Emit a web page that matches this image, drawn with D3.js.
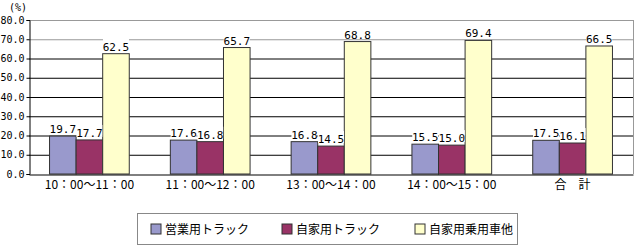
<!DOCTYPE html>
<html>
<head>
<meta charset="utf-8">
<script src="https://cdn.jsdelivr.net/npm/d3@7"></script>
<style>
  body { margin: 0; background: #fff; }
  text { font-family: "Noto Sans CJK JP", sans-serif; }
  .num { font-family: "DejaVu Sans Mono", monospace; }
</style>
</head>
<body>
<svg id="chart" width="636" height="246"></svg>
<script>
// data
let categories = ["10：00〜11：00", "11：00〜12：00", "13：00〜14：00", "14：00〜15：00", "合　計"];
let seriesNames = ["営業用トラック", "自家用トラック", "自家用乗用車他"];
let eigyo = [19.7, 17.6, 16.8, 15.5, 17.5];
let jikaTruck = [17.7, 16.8, 14.5, 15.0, 16.1];
let jikaCar = [62.5, 65.7, 68.8, 69.4, 66.5];
let yTicks = [0, 10, 20, 30, 40, 50, 60, 70, 80];

let colors = ["#9999cc", "#993366", "#ffffcc"];
let allSeries = [eigyo, jikaTruck, jikaCar];

let svg = d3.select("#chart");
let plotL = 29, plotR = 633, plotT = 20, plotB = 174;

let x = d3.scaleBand().domain(categories).range([plotL, plotR]).paddingInner(0.34).paddingOuter(0.17);
let xs = d3.scaleBand().domain(d3.range(seriesNames.length)).range([0, x.bandwidth()]);
let y = d3.scaleLinear().domain([0, 80]).range([plotB, plotT]);

// gridlines
svg.append("g").selectAll("line")
    .data(yTicks.filter(d => d > 0))
    .join("line")
    .attr("x1", plotL).attr("x2", plotR)
    .attr("y1", d => y(d) + 0.5).attr("y2", d => y(d) + 0.5)
    .attr("stroke", d => d >= 70 ? "#999" : "#000")
    .attr("stroke-width", 1);

// right border
svg.append("line")
    .attr("x1", plotR + 0.5).attr("x2", plotR + 0.5).attr("y1", plotT).attr("y2", plotB)
    .attr("stroke", "#999");

// bars
let groups = svg.append("g").selectAll("g")
    .data(categories)
    .join("g")
    .attr("transform", d => "translate(" + x(d) + ",0)");

groups.selectAll("rect")
    .data((d, i) => allSeries.map((s, k) => ({k: k, v: s[i]})))
    .join("rect")
    .attr("x", d => xs(d.k))
    .attr("y", d => y(d.v))
    .attr("width", xs.bandwidth())
    .attr("height", d => plotB - y(d.v))
    .attr("fill", d => colors[d.k])
    .attr("stroke", "#333")
    .attr("stroke-width", 1);

// value labels with white background
let lab = groups.selectAll("g.lab")
    .data((d, i) => allSeries.map((s, k) => ({k: k, v: s[i]})))
    .join("g")
    .attr("class", "lab")
    .attr("transform", d => "translate(" + (xs(d.k) + xs.bandwidth() / 2) + "," + (y(d.v) - 3) + ")");
lab.append("rect")
    .attr("x", -13).attr("y", -12).attr("width", 26).attr("height", 12)
    .attr("fill", "#fff");
lab.append("text")
    .attr("class", "num")
    .attr("text-anchor", "middle")
    .attr("font-size", 11)
    .text(d => d.v.toFixed(1));

// axes
let yAxis = d3.axisLeft(y).tickValues(yTicks).tickSize(3).tickPadding(2).tickFormat(d => d3.format(".1f")(d));
let gy = svg.append("g").attr("transform", "translate(" + (plotL + 0.5) + ",0)").call(yAxis);
gy.select(".domain").attr("stroke", "#000");
gy.selectAll(".tick line").attr("stroke", "#000");
gy.selectAll("text").attr("class", "num").attr("font-size", 10).attr("fill", "#000");

let xAxis = d3.axisBottom(x).tickSize(0).tickPadding(6);
let gx = svg.append("g").attr("transform", "translate(0," + (plotB + 0.5) + ")").call(xAxis);
gx.select(".domain").attr("stroke", "#000");
gx.selectAll("text").attr("font-size", 12).attr("fill", "#000")
    .style("font-family", "'Noto Sans CJK JP', sans-serif");

svg.append("text").attr("class", "num").attr("x", 9).attr("y", 11).attr("font-size", 10).text("(%)");

// legend
svg.append("rect")
    .attr("x", 137.5).attr("y", 213.5).attr("width", 380).attr("height", 31)
    .attr("fill", "#fff").attr("stroke", "#888");
let legX = [151, 282, 415];
let leg = svg.append("g").selectAll("g")
    .data(seriesNames)
    .join("g")
    .attr("transform", (d, i) => "translate(" + legX[i] + ",224)");
leg.append("rect")
    .attr("width", 10).attr("height", 10)
    .attr("fill", (d, i) => colors[i]).attr("stroke", "#333");
leg.append("text")
    .attr("x", 14).attr("y", 10)
    .attr("font-size", 12)
    .text(d => d);
</script>
</body>
</html>
